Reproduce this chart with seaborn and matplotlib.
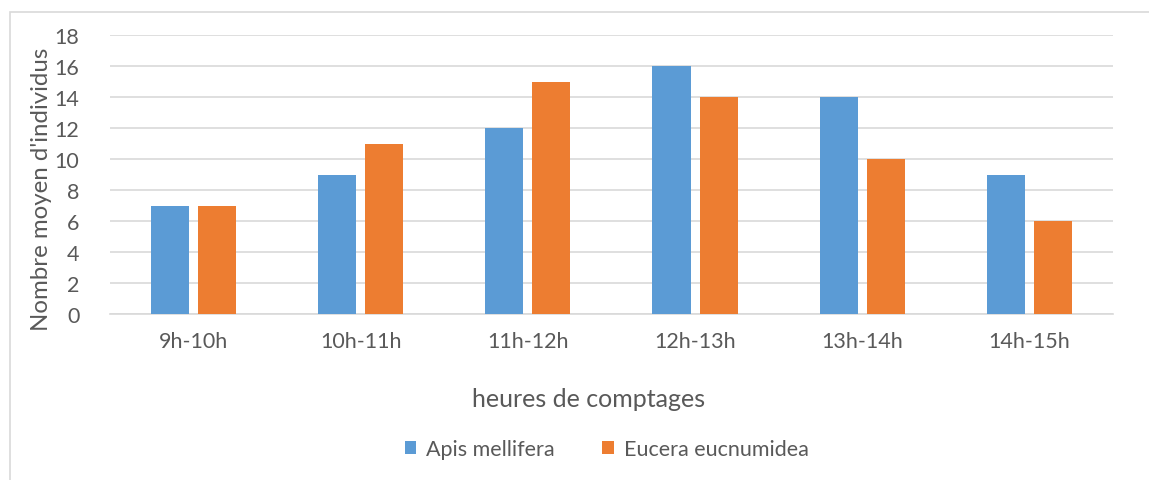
import pandas as pd
import numpy as np
import matplotlib.pyplot as plt
import seaborn as sns
from matplotlib.patches import Rectangle

# data
heures = ['9h-10h', '10h-11h', '11h-12h', '12h-13h', '13h-14h', '14h-15h']
apis = [7, 9, 12, 16, 14, 9]
eucera = [7, 11, 15, 14, 10, 6]
especes = ['Apis mellifera', 'Eucera eucnumidea']

df = pd.DataFrame({
    'heure': heures * 2,
    'valeur': apis + eucera,
    'espece': [especes[0]] * len(heures) + [especes[1]] * len(heures),
})

sns.set_style('white')
plt.rcParams['font.family'] = ['Lato', 'DejaVu Sans']
gris = '#595959'

fig = plt.figure(figsize=(11.49, 4.81), dpi=100)
ax = fig.add_axes([0.0957, 0.345, 0.873, 0.58])

sns.barplot(data=df, x='heure', y='valeur', hue='espece',
            palette=['#5B9BD5', '#ED7D31'], width=0.563, gap=0.19,
            saturation=1, linewidth=0, ax=ax, legend=True, zorder=3)

ax.set_ylim(0, 18)
ax.set_yticks(range(0, 19, 2))
ax.grid(axis='y', color='#D9D9D9', linewidth=1.2, zorder=0)
ax.set_axisbelow(True)
for s in ['top', 'right', 'left']:
    ax.spines[s].set_visible(False)
ax.spines['bottom'].set_color('#D9D9D9')
ax.spines['bottom'].set_linewidth(1.2)
ax.tick_params(axis='both', length=0, labelsize=15.5, labelcolor=gris)
ax.tick_params(axis='x', pad=12)
ax.tick_params(axis='y', pad=22)

ax.set_xlabel('heures de comptages', fontsize=18, color=gris)
ax.xaxis.set_label_coords(0.477, -0.262)
ax.set_ylabel("Nombre moyen d'individus", fontsize=17.3, color=gris)
ax.yaxis.set_label_coords(-0.058, 0.452)

ax.legend(loc='center', bbox_to_anchor=(0.495, -0.484), ncol=2, frameon=False,
          fontsize=15.5, labelcolor=gris, handlelength=0.55, handleheight=0.55,
          columnspacing=2.2, handletextpad=0.45)

# light frame around the chart
fig.patches.append(Rectangle((10 / 1149, -0.1), 1.2, 1 - 13 / 481 + 0.1,
                             transform=fig.transFigure, fill=False,
                             edgecolor='#D9D9D9', linewidth=1.2))

fig.savefig('out.png', dpi=100)
